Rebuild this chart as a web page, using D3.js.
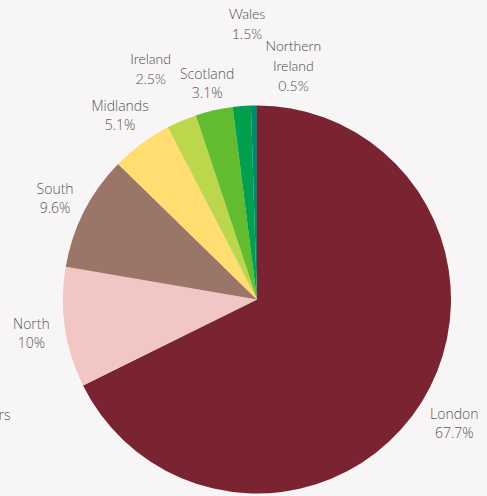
<!DOCTYPE html>
<html>
<head>
<meta charset="utf-8">
<script src="https://cdn.jsdelivr.net/npm/d3@7"></script>
<style>
  html, body { margin: 0; padding: 0; background: #f7f5f6; overflow: hidden; }
  svg { display: block; }
  .label { font-family: "Open Sans", sans-serif; font-size: 14px; font-weight: 300; fill: #5a5a5a; }
  .label.small { font-family: Lato, "Open Sans", sans-serif; font-size: 14px; font-weight: 300; fill: #4a4a4a; }
</style>
</head>
<body>
<div id="chart"></div>
<script>
const width = 487;
const height = 496;
const cx = 257;
const cy = 299.5;
const radius = 194;
const labelRadius = 230;

// data, clockwise from 12 o'clock
const regions = ["London", "Others", "North", "South", "Midlands", "Ireland", "Scotland", "Wales", "Northern Ireland"];
const shares = [67.7, 0, 10, 9.6, 5.1, 2.5, 3.1, 1.5, 0.5];
const shareLabels = ["67.7%", "0%", "10%", "9.6%", "5.1%", "2.5%", "3.1%", "1.5%", "0.5%"];

const colors = {
  London: "#7b2431",
  Others: "#c9c9c9",
  North: "#f2c6c4",
  South: "#9b7567",
  Midlands: "#ffdd70",
  Ireland: "#bcd74b",
  Scotland: "#63bb2f",
  Wales: "#00a04e",
  "Northern Ireland": "#008a6b",
};

// manual label tweaks (the crowded top labels were moved by hand)
const labelNudge = {
  London: [2, 2],
  North: [2, 0],
  South: [3, 3],
  Others: [-62, 23],
  Ireland: [-17, -20],
  Scotland: [1, 8],
  Wales: [8, -47],
  "Northern Ireland": [40, -15],
};
const smallLabels = new Set(["Ireland", "Wales", "Northern Ireland"]);

const data = regions.map((r, i) => ({ region: r, value: shares[i], text: shareLabels[i] }));

const svg = d3.select("#chart")
  .append("svg")
  .attr("width", width)
  .attr("height", height);

const g = svg.append("g").attr("transform", `translate(${cx},${cy})`);

const pie = d3.pie().sort(null).value((d) => d.value);
const arc = d3.arc().innerRadius(0).outerRadius(radius);
const arcs = pie(data);

g.selectAll("path.slice")
  .data(arcs.filter((d) => d.data.value > 0))
  .join("path")
  .attr("class", "slice")
  .attr("d", arc)
  .attr("fill", (d) => colors[d.data.region]);

arcs.forEach((d) => {
  const mid = (d.startAngle + d.endAngle) / 2;
  const nudge = labelNudge[d.data.region] || [0, 0];
  const x = Math.sin(mid) * labelRadius + nudge[0];
  const y = -Math.cos(mid) * labelRadius + nudge[1];
  const small = smallLabels.has(d.data.region);
  const lineH = small ? 20 : 19;
  const lines = d.data.region === "Northern Ireland"
    ? ["Northern", "Ireland", d.data.text]
    : [d.data.region, d.data.text];

  const t = g.append("text")
    .attr("class", small ? "label small" : "label")
    .attr("text-anchor", "middle");
  lines.forEach((line, i) => {
    t.append("tspan")
      .attr("x", x)
      .attr("y", y - 4 + i * lineH)
      .text(line);
  });
});
</script>
</body>
</html>
